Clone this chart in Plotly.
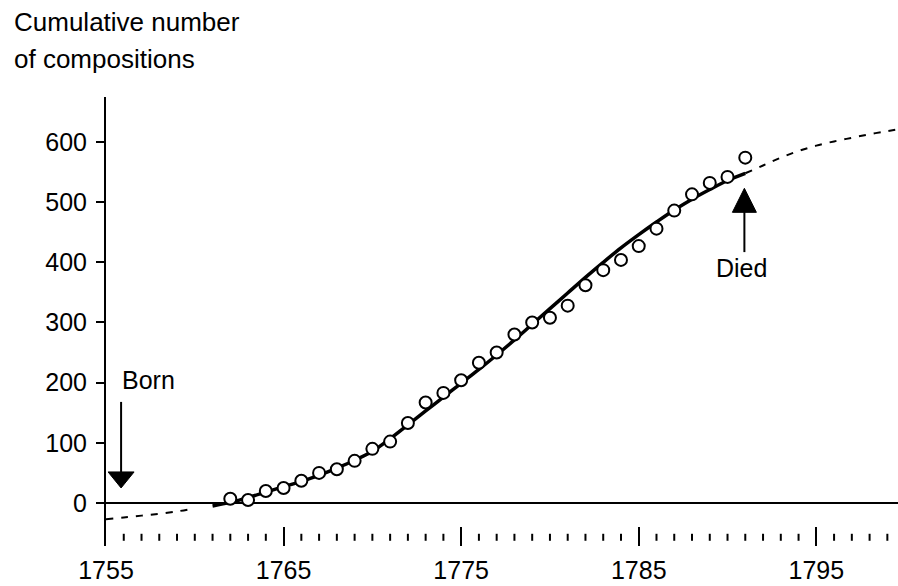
import plotly.graph_objects as go

# ---------------- data ----------------
obs_years = list(range(1762, 1792))
obs_counts = [7, 5, 20, 25, 37, 50, 56, 70, 90, 102,
              133, 167, 183, 204, 233, 250, 280, 300, 308, 328,
              362, 387, 404, 427, 456, 486, 513, 532, 542, 574]

fit_years = list(range(1761, 1792))
fit_counts = [-5, 1, 9, 18, 27, 36, 46, 58, 71, 86,
              107, 130, 153, 176, 199, 222, 246, 271, 297, 323,
              349, 375, 400, 424, 446, 467, 487, 505, 521, 536, 548]

pre_years = [1755, 1756, 1757, 1758, 1759, 1759.6]
pre_counts = [-27, -24, -21, -18, -14, -11]

post_years = [1791, 1792, 1793, 1794, 1795, 1796, 1797, 1798, 1799, 1799.6]
post_counts = [548, 561, 574, 585, 594, 601, 607, 613, 618, 621]

x_ticks = [1755, 1765, 1775, 1785, 1795]
x_tick_labels = ["1755", "1765", "1775", "1785", "1795"]
y_ticks = [0, 100, 200, 300, 400, 500, 600]
minor_years = [y for y in range(1756, 1800) if y not in x_ticks]
minor_level = -57

born = dict(x=1755.85, tip=25, tail=168, label="Born", lx=1757.4, ly=204)
died = dict(x=1790.95, tip=523, tail=417, label="Died", lx=1790.8, ly=391)

title_lines = ["Cumulative number", "of compositions"]

# ---------------- layout geometry ----------------
L, R, T, B = 106, 0, 97, 40
W, H = 898, 586
PW, PH = W - L - R, H - T - B
FONT = "Liberation Sans, Arial, sans-serif"
FS = 25


def paper_x(px):
    return (px - L) / PW


def paper_y(py):
    return (H - B - py) / PH


fig = go.Figure()

# dashed extrapolations
for xs, ys in [(pre_years, pre_counts), (post_years, post_counts)]:
    fig.add_trace(go.Scatter(x=xs, y=ys, mode="lines",
                             line=dict(color="black", width=2, dash="7px,8px", shape="spline"),
                             hoverinfo="skip", showlegend=False))

# fitted curve
fig.add_trace(go.Scatter(x=fit_years, y=fit_counts, mode="lines",
                         line=dict(color="black", width=3.5, shape="spline"),
                         hoverinfo="skip", showlegend=False))

# observed points
fig.add_trace(go.Scatter(x=obs_years, y=obs_counts, mode="markers",
                         marker=dict(symbol="circle", size=12, color="white",
                                     line=dict(color="black", width=2)),
                         showlegend=False))

# minor year dots
fig.add_trace(go.Scatter(x=minor_years, y=[minor_level] * len(minor_years), mode="markers",
                         marker=dict(symbol="line-ns", size=5,
                                     line=dict(color="black", width=2)),
                         hoverinfo="skip", showlegend=False))

shapes = []
annotations = []

# Born arrow (pointing down)
shapes.append(dict(type="line", xref="x", yref="y", x0=born["x"], x1=born["x"],
                   y0=born["tail"], y1=born["tip"] + 20,
                   line=dict(color="black", width=2)))
shapes.append(dict(type="path", xref="x", yref="y", xsizemode="pixel", ysizemode="pixel",
                   xanchor=born["x"], yanchor=born["tip"],
                   path="M -13,16 L 13,16 L 0,0 Z",
                   fillcolor="black", line=dict(color="black", width=1)))
# Died arrow (pointing up)
shapes.append(dict(type="line", xref="x", yref="y", x0=died["x"], x1=died["x"],
                   y0=died["tail"], y1=died["tip"] - 20,
                   line=dict(color="black", width=2)))
shapes.append(dict(type="path", xref="x", yref="y", xsizemode="pixel", ysizemode="pixel",
                   xanchor=died["x"], yanchor=died["tip"],
                   path="M -12,-24 L 12,-24 L 0,0 Z",
                   fillcolor="black", line=dict(color="black", width=1)))

for a in (born, died):
    annotations.append(dict(x=a["lx"], y=a["ly"], xref="x", yref="y", text=a["label"],
                            showarrow=False, xanchor="center", yanchor="middle",
                            font=dict(family=FONT, size=FS, color="black")))

for i, (txt, py) in enumerate(zip(title_lines, [22, 59])):
    annotations.append(dict(x=paper_x(12), y=paper_y(py), xref="paper", yref="paper",
                            text=txt, showarrow=False, xanchor="left", yanchor="middle",
                            font=dict(family=FONT, size=26, color="black")))

fig.update_layout(
    width=W, height=H,
    margin=dict(l=L, r=R, t=T, b=B, pad=0),
    paper_bgcolor="white", plot_bgcolor="white",
    font=dict(family=FONT, size=FS, color="black"),
    shapes=shapes, annotations=annotations,
    showlegend=False,
    xaxis=dict(range=[1755, 1799.6], tickvals=x_ticks, ticktext=x_tick_labels,
               ticks="inside", ticklen=19, tickwidth=2, tickcolor="black",
               showline=False, showgrid=False, zeroline=False, ticklabelstandoff=7,
               tickfont=dict(family=FONT, size=FS, color="black")),
    yaxis=dict(range=[-71.5, 674.8], tickvals=y_ticks,
               ticks="outside", ticklen=8, tickwidth=2, tickcolor="black",
               showline=True, linewidth=2, linecolor="black", ticklabelstandoff=4,
               showgrid=False, zeroline=True, zerolinewidth=2, zerolinecolor="black",
               tickfont=dict(family=FONT, size=FS, color="black")),
)

fig.write_html("out.html",
               config={"displayModeBar": False},
               post_script="document.body.style.margin='0';document.body.style.overflow='hidden';")
